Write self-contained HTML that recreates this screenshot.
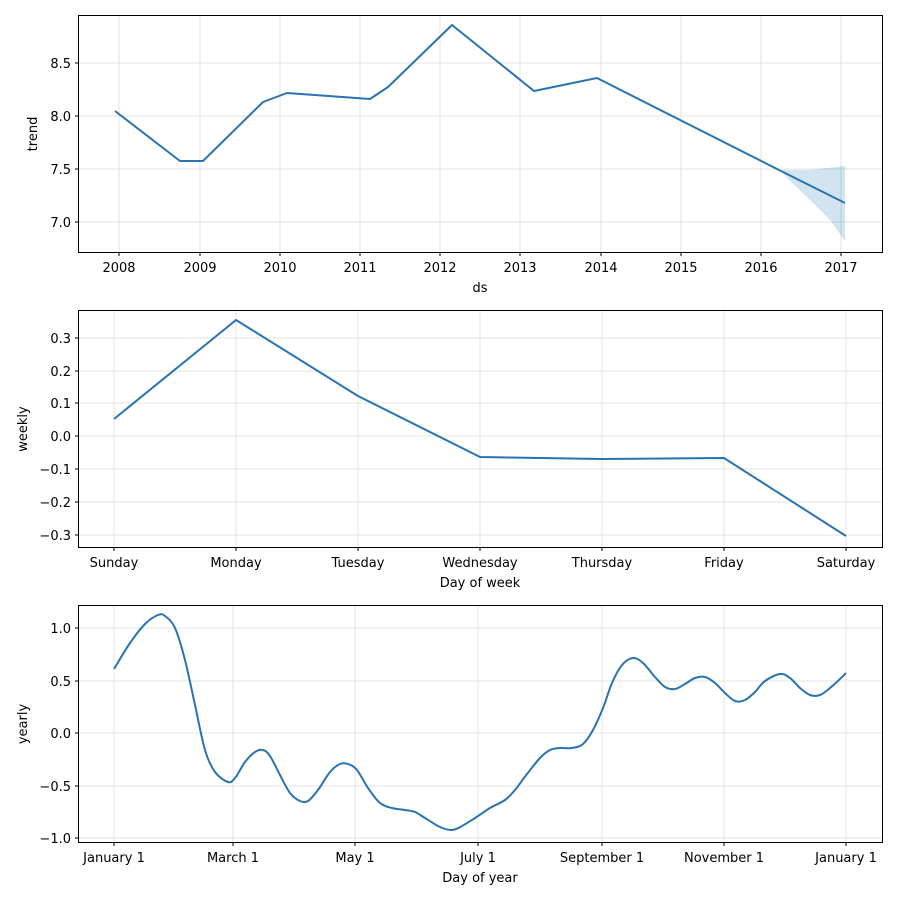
<!DOCTYPE html>
<html><head><meta charset="utf-8"><style>body{margin:0;background:#fff}svg{display:block}text{font-family:"DejaVu Sans","Liberation Sans",sans-serif;font-size:13px;fill:#000}</style></head><body>
<svg width="900" height="900" viewBox="0 0 900 900" xmlns="http://www.w3.org/2000/svg">
<g stroke="#b0b0b0" stroke-opacity="0.35" stroke-width="1">
<path d="M119 15V252M200 15V252M280 15V252M360 15V252M440 15V252M520 15V252M601 15V252M681 15V252M761 15V252M841 15V252M79 63H882M79 116H882M79 169H882M79 222H882"/>
<path d="M114 310V547M236 310V547M358 310V547M480 310V547M602 310V547M724 310V547M846 310V547M79 338H882M79 371H882M79 403H882M79 436H882M79 469H882M79 502H882M79 535H882"/>
<path d="M114 605V842M233 605V842M355 605V842M478 605V842M602 605V842M724 605V842M846 605V842M79 628H882M79 681H882M79 733H882M79 786H882M79 838H882"/>
</g>
<path d="M779 170L810 170L845 166L845 241L830 220L810 200Z" fill="#1f77b4" fill-opacity="0.2"/>
<g fill="none" stroke="#2a73b0" stroke-width="2" stroke-linejoin="round">
<polyline points="115,111 180,161 203,161 263,102 287,93 370,99 388,87 452,25 534,91 597,78 779,170 845,203"/>
<polyline points="114,419 236,320 358,396 480,457 602,459 724,458 846,536"/>
<path id="yr" d=""/>
</g>
<g fill="none" stroke="#000" stroke-width="1">
<rect x="78.5" y="15.5" width="804" height="237"/>
<rect x="78.5" y="310.5" width="804" height="237"/>
<rect x="78.5" y="605.5" width="804" height="237"/>
<path d="M119 252v4M200 252v4M280 252v4M360 252v4M440 252v4M520 252v4M601 252v4M681 252v4M761 252v4M841 252v4M79 63h-4M79 116h-4M79 169h-4M79 222h-4"/>
<path d="M114 547v4M236 547v4M358 547v4M480 547v4M602 547v4M724 547v4M846 547v4M79 338h-4M79 371h-4M79 403h-4M79 436h-4M79 469h-4M79 502h-4M79 535h-4"/>
<path d="M114 842v4M233 842v4M355 842v4M478 842v4M602 842v4M724 842v4M846 842v4M79 628h-4M79 681h-4M79 733h-4M79 786h-4M79 838h-4"/>
</g>
<g text-anchor="middle">
<text x="119" y="272">2008</text><text x="200" y="272">2009</text><text x="280" y="272">2010</text><text x="360" y="272">2011</text><text x="440" y="272">2012</text><text x="520" y="272">2013</text><text x="601" y="272">2014</text><text x="681" y="272">2015</text><text x="761" y="272">2016</text><text x="841" y="272">2017</text>
<text x="480" y="292">ds</text>
<text x="114" y="567">Sunday</text><text x="236" y="567">Monday</text><text x="358" y="567">Tuesday</text><text x="480" y="567">Wednesday</text><text x="602" y="567">Thursday</text><text x="724" y="567">Friday</text><text x="846" y="567">Saturday</text>
<text x="480" y="587">Day of week</text>
<text x="114" y="862">January 1</text><text x="233" y="862">March 1</text><text x="355" y="862">May 1</text><text x="478" y="862">July 1</text><text x="602" y="862">September 1</text><text x="724" y="862">November 1</text><text x="846" y="862">January 1</text>
<text x="480" y="882">Day of year</text>
<text transform="translate(37,134) rotate(-90)">trend</text>
<text transform="translate(27,429) rotate(-90)">weekly</text>
<text transform="translate(27,724) rotate(-90)">yearly</text>
</g>
<g text-anchor="end">
<text x="71" y="68">8.5</text><text x="71" y="121">8.0</text><text x="71" y="174">7.5</text><text x="71" y="227">7.0</text>
<text x="71" y="343">0.3</text><text x="71" y="376">0.2</text><text x="71" y="408">0.1</text><text x="71" y="441">0.0</text><text x="71" y="474">−0.1</text><text x="71" y="507">−0.2</text><text x="71" y="540">−0.3</text>
<text x="71" y="633">1.0</text><text x="71" y="686">0.5</text><text x="71" y="738">0.0</text><text x="71" y="791">−0.5</text><text x="71" y="843">−1.0</text>
</g>
</svg>
<script>
var p=[[114,669],[130,643],[145,624],[158,615],[165,616],[175,628],[185,660],[195,705],[205,750],[215,772],[228,782],[235,778],[245,762],[255,752],[263,750],[270,756],[280,775],[290,793],[300,801],[308,801],[318,790],[330,772],[340,764],[348,764],[357,770],[368,788],[380,803],[392,808],[405,810],[415,812],[425,818],[440,827],[452,830],[462,826],[475,818],[490,808],[505,800],[515,790],[527,774],[540,758],[550,750],[560,748],[572,748],[583,744],[593,730],[603,708],[612,683],[622,665],[633,658],[643,663],[655,677],[665,687],[675,689],[685,684],[695,678],[705,677],[715,683],[725,693],[735,701],[745,700],[755,692],[765,681],[780,674],[790,678],[800,688],[810,695],[820,695],[830,688],[840,679],[846,673]];
var d="M"+p[0][0]+" "+p[0][1];
for(var i=0;i<p.length-1;i++){var a=p[i-1]||p[i],b=p[i],c=p[i+1],e=p[i+2]||c;
d+="C"+(b[0]+(c[0]-a[0])/6).toFixed(1)+" "+(b[1]+(c[1]-a[1])/6).toFixed(1)+" "+(c[0]-(e[0]-b[0])/6).toFixed(1)+" "+(c[1]-(e[1]-b[1])/6).toFixed(1)+" "+c[0]+" "+c[1];}
document.getElementById("yr").setAttribute("d",d);
</script>
</body></html>
